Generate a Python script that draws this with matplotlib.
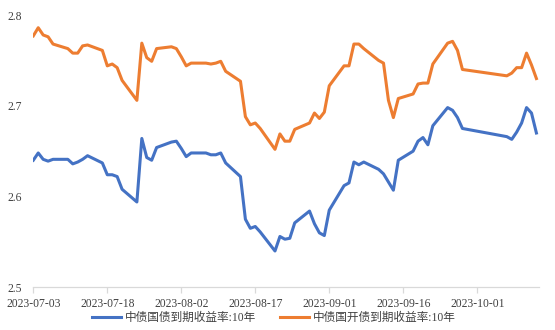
import numpy as np
import pandas as pd
import matplotlib
matplotlib.use("Agg")
import matplotlib.pyplot as plt
import matplotlib.dates as mdates

plt.rcParams['font.family'] = ['Liberation Serif', 'Noto Sans CJK SC', 'DejaVu Sans']

dates = [
    "2023-07-03", "2023-07-04", "2023-07-05", "2023-07-06", "2023-07-07",
    "2023-07-10", "2023-07-11", "2023-07-12", "2023-07-13", "2023-07-14",
    "2023-07-17", "2023-07-18", "2023-07-19", "2023-07-20", "2023-07-21",
    "2023-07-24", "2023-07-25", "2023-07-26", "2023-07-27", "2023-07-28",
    "2023-07-31", "2023-08-01", "2023-08-02", "2023-08-03", "2023-08-04",
    "2023-08-07", "2023-08-08", "2023-08-09", "2023-08-10", "2023-08-11",
    "2023-08-14", "2023-08-15", "2023-08-16", "2023-08-17", "2023-08-18",
    "2023-08-21", "2023-08-22", "2023-08-23", "2023-08-24", "2023-08-25",
    "2023-08-28", "2023-08-29", "2023-08-30", "2023-08-31", "2023-09-01",
    "2023-09-04", "2023-09-05", "2023-09-06", "2023-09-07", "2023-09-08",
    "2023-09-11", "2023-09-12", "2023-09-13", "2023-09-14", "2023-09-15",
    "2023-09-18", "2023-09-19", "2023-09-20", "2023-09-21", "2023-09-22",
    "2023-09-25", "2023-09-26", "2023-09-27", "2023-09-28",
    "2023-10-07", "2023-10-08", "2023-10-09", "2023-10-10", "2023-10-11",
    "2023-10-12", "2023-10-13",
]

# 中债国债到期收益率:10年
gov_10y = [
    2.640, 2.648, 2.641, 2.639, 2.641,
    2.641, 2.636, 2.638, 2.641, 2.645,
    2.637, 2.624, 2.624, 2.622, 2.608,
    2.594, 2.664, 2.643, 2.640, 2.654,
    2.660, 2.661, 2.653, 2.644, 2.648,
    2.648, 2.646, 2.646, 2.648, 2.637,
    2.622, 2.575, 2.565, 2.567, 2.561,
    2.540, 2.556, 2.553, 2.554, 2.571,
    2.584, 2.570, 2.560, 2.557, 2.585,
    2.612, 2.615, 2.638, 2.635, 2.638,
    2.630, 2.625, 2.616, 2.607, 2.640,
    2.650, 2.661, 2.665, 2.657, 2.678,
    2.698, 2.695, 2.687, 2.675,
    2.666, 2.663, 2.671, 2.681, 2.698,
    2.692, 2.670,
]

# 中债国开债到期收益率:10年
cdb_10y = [
    2.777, 2.786, 2.778, 2.776, 2.768,
    2.763, 2.758, 2.758, 2.766, 2.767,
    2.761, 2.744, 2.746, 2.742, 2.728,
    2.706, 2.769, 2.753, 2.749, 2.763,
    2.765, 2.763, 2.754, 2.744, 2.747,
    2.747, 2.746, 2.747, 2.749, 2.738,
    2.727, 2.688, 2.679, 2.681, 2.675,
    2.652, 2.669, 2.661, 2.661, 2.674,
    2.681, 2.692, 2.686, 2.693, 2.722,
    2.744, 2.744, 2.768, 2.768, 2.763,
    2.750, 2.747, 2.706, 2.687, 2.708,
    2.713, 2.724, 2.725, 2.725, 2.746,
    2.769, 2.771, 2.761, 2.740,
    2.733, 2.736, 2.742, 2.742, 2.758,
    2.745, 2.730,
]

labels = ["中债国债到期收益率:10年", "中债国开债到期收益率:10年"]
x = pd.to_datetime(dates)

fig = plt.figure(figsize=(5.55, 3.3), dpi=100)
ax = fig.add_axes([0.060, 0.1294, 0.9117, 0.8251])

ax.plot(x, gov_10y, color="#4472C4", lw=2.2, label=labels[0])
ax.plot(x, cdb_10y, color="#ED7D31", lw=2.2, label=labels[1])

ax.set_ylim(2.5, 2.8)
ax.set_yticks([2.5, 2.6, 2.7, 2.8])
ax.set_yticklabels(["2.5", "2.6", "2.7", "2.8"])
ax.set_xlim(pd.Timestamp("2023-07-03"), pd.Timestamp("2023-10-13") + pd.Timedelta(hours=14))
ax.set_xticks(pd.date_range("2023-07-03", "2023-10-01", freq="15D"))
ax.xaxis.set_major_formatter(mdates.DateFormatter("%Y-%m-%d"))

for s in ["top", "right", "left"]:
    ax.spines[s].set_visible(False)
ax.spines["bottom"].set_color("#D9D9D9")
ax.spines["bottom"].set_linewidth(0.9)
ax.tick_params(axis="x", colors="#D9D9D9", length=4, width=0.9, pad=4,
               labelcolor="#404040", labelsize=8.4)
ax.tick_params(axis="y", length=0, pad=8, labelcolor="#404040", labelsize=8.4)

fig.legend(loc="center", bbox_to_anchor=(274 / 555, 12 / 330), ncol=2,
           frameon=False, fontsize=8.4, handlelength=2.5, handletextpad=0.35,
           columnspacing=2.0, labelcolor="#404040")

fig.savefig("out.png", dpi=100)
